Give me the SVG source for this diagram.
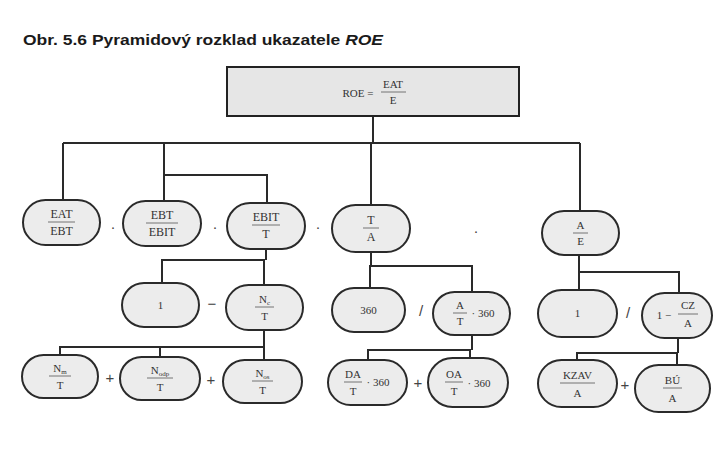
<svg xmlns="http://www.w3.org/2000/svg" width="718" height="472" viewBox="0 0 718 472">
<style>
.bg{fill:#ffffff}
.title{font-family:"Liberation Sans",Arial,sans-serif;font-weight:bold;font-size:15px;fill:#1a1a1a}
.node{fill:#ececec;stroke:#2a2a2a;stroke-width:2}
.box{fill:#e6e6e6;stroke:#222;stroke-width:2}
.t{font-family:"Liberation Serif","Times New Roman",serif;font-size:12px;fill:#333;text-anchor:middle}
.s{font-family:"Liberation Serif","Times New Roman",serif;font-size:11px;fill:#333;text-anchor:middle}
.sub{font-size:7px}
.fl{stroke:#555;stroke-width:0.8}
.op{font-family:"Liberation Sans",Arial,sans-serif;font-size:15px;fill:#444;text-anchor:middle}
.c{fill:none;stroke:#2a2a2a;stroke-width:2}
</style>
<rect class="bg" x="0" y="0" width="718" height="472"/>
<text class="title" x="23" y="45" textLength="360" lengthAdjust="spacingAndGlyphs">Obr. 5.6  Pyramidový rozklad ukazatele <tspan font-style="italic">ROE</tspan></text>

<g id="connectors">
  <polyline class="c" points="373,116 373,143 371,143 371,206"/>
  <line class="c" x1="63" y1="143" x2="580" y2="143"/>
  <line class="c" x1="63" y1="143" x2="63" y2="201"/>
  <line class="c" x1="164" y1="143" x2="164" y2="202"/>
  <polyline class="c" points="164,175 267,175 267,204"/>
  <line class="c" x1="580" y1="143" x2="580" y2="212"/>
  <polyline class="c" points="266,249 266,260"/>
  <polyline class="c" points="162,284 162,260 264,260 264,286"/>
  <polyline class="c" points="371,252 371,266"/>
  <polyline class="c" points="370,289 370,266 472,266 472,293"/>
  <polyline class="c" points="579,255 579,291"/>
  <polyline class="c" points="579,272 679,272 679,294"/>
  <polyline class="c" points="264,330 264,347"/>
  <polyline class="c" points="60,356 60,347 264,347 264,361"/>
  <line class="c" x1="160" y1="347" x2="160" y2="358"/>
  <polyline class="c" points="472,335 472,350"/>
  <polyline class="c" points="368,361 368,350 470,350 470,359"/>
  <polyline class="c" points="678,338 678,353"/>
  <polyline class="c" points="577,361 577,353 677,353 677,366"/>
</g>

<g id="root">
  <rect class="box" x="227" y="67" width="292" height="49"/>
  <text class="s" x="358" y="97">ROE =</text>
  <text class="s" x="393" y="88">EAT</text>
  <line class="fl" x1="381" y1="92" x2="406" y2="92"/>
  <text class="s" x="393" y="104">E</text>
</g>

<g id="n1">
  <rect class="node" x="23" y="200" width="77" height="45" rx="22.5"/>
  <text class="t" x="61.5" y="218">EAT</text>
  <line class="fl" x1="48" y1="222" x2="75" y2="222"/>
  <text class="t" x="61.5" y="235">EBT</text>
</g>
<g id="n2">
  <rect class="node" x="123" y="201" width="78" height="45" rx="22.5"/>
  <text class="t" x="162" y="219">EBT</text>
  <line class="fl" x1="146" y1="223" x2="178" y2="223"/>
  <text class="t" x="162" y="236">EBIT</text>
</g>
<g id="n3">
  <rect class="node" x="227" y="203" width="78" height="46" rx="23"/>
  <text class="t" x="266" y="221">EBIT</text>
  <line class="fl" x1="252" y1="225" x2="280" y2="225"/>
  <text class="t" x="266" y="238">T</text>
</g>
<g id="n4">
  <rect class="node" x="332" y="205" width="78" height="47" rx="23.5"/>
  <text class="t" x="371" y="224">T</text>
  <line class="fl" x1="363" y1="228" x2="379" y2="228"/>
  <text class="t" x="371" y="241">A</text>
</g>
<g id="n5">
  <rect class="node" x="542" y="211" width="77" height="44" rx="22"/>
  <text class="s" x="580.5" y="229">A</text>
  <line class="fl" x1="573" y1="233" x2="588" y2="233"/>
  <text class="s" x="580.5" y="245">E</text>
</g>

<g id="ops1">
  <text class="op" x="113" y="232">·</text>
  <text class="op" x="215" y="232">·</text>
  <text class="op" x="318" y="232">·</text>
  <text class="op" x="476" y="236">·</text>
</g>

<g id="n6">
  <rect class="node" x="122" y="283" width="77" height="44" rx="22"/>
  <text class="s" x="160.5" y="309">1</text>
</g>
<g id="n7">
  <rect class="node" x="226" y="285" width="77" height="45" rx="22.5"/>
  <text class="s" x="264.5" y="303">N<tspan class="sub" dy="2">c</tspan></text>
  <line class="fl" x1="255" y1="307" x2="274" y2="307"/>
  <text class="s" x="264.5" y="320">T</text>
</g>
<g id="n8">
  <rect class="node" x="332" y="288" width="73" height="44" rx="22"/>
  <text class="s" x="368.5" y="314">360</text>
</g>
<g id="n9">
  <rect class="node" x="433" y="292" width="77" height="43" rx="21.5"/>
  <text class="s" x="460" y="309">A</text>
  <line class="fl" x1="453" y1="313" x2="467" y2="313"/>
  <text class="s" x="460" y="325">T</text>
  <text class="s" x="483" y="317">· 360</text>
</g>
<g id="n10">
  <rect class="node" x="538" y="290" width="79" height="47" rx="23.5"/>
  <text class="s" x="577.5" y="317">1</text>
</g>
<g id="n11">
  <rect class="node" x="642" y="293" width="70" height="45" rx="22.5"/>
  <text class="s" x="664" y="319">1 −</text>
  <text class="s" x="688" y="309">CZ</text>
  <line class="fl" x1="678" y1="314" x2="698" y2="314"/>
  <text class="s" x="688" y="327">A</text>
</g>

<g id="ops2">
  <text class="op" x="212" y="309">−</text>
  <text class="op" x="421" y="316">/</text>
  <text class="op" x="628" y="318">/</text>
</g>

<g id="n12">
  <rect class="node" x="22" y="355" width="76" height="43" rx="21.5"/>
  <text class="s" x="60" y="372">N<tspan class="sub" dy="2">m</tspan></text>
  <line class="fl" x1="49" y1="376" x2="71" y2="376"/>
  <text class="s" x="60" y="389">T</text>
</g>
<g id="n13">
  <rect class="node" x="120" y="357" width="80" height="43" rx="21.5"/>
  <text class="s" x="160" y="374">N<tspan class="sub" dy="2">odp</tspan></text>
  <line class="fl" x1="147" y1="378" x2="173" y2="378"/>
  <text class="s" x="160" y="391">T</text>
</g>
<g id="n14">
  <rect class="node" x="223" y="360" width="79" height="43" rx="21.5"/>
  <text class="s" x="262.5" y="377">N<tspan class="sub" dy="2">os</tspan></text>
  <line class="fl" x1="252" y1="381" x2="273" y2="381"/>
  <text class="s" x="262.5" y="394">T</text>
</g>
<g id="n15">
  <rect class="node" x="328" y="360" width="79" height="45" rx="22.5"/>
  <text class="s" x="353" y="378">DA</text>
  <line class="fl" x1="344" y1="382" x2="362" y2="382"/>
  <text class="s" x="353" y="395">T</text>
  <text class="s" x="378" y="386">· 360</text>
</g>
<g id="n16">
  <rect class="node" x="428" y="358" width="80" height="49" rx="24.5"/>
  <text class="s" x="454" y="378">OA</text>
  <line class="fl" x1="445" y1="382" x2="463" y2="382"/>
  <text class="s" x="454" y="395">T</text>
  <text class="s" x="479" y="387">· 360</text>
</g>
<g id="n17">
  <rect class="node" x="538" y="360" width="79" height="47" rx="23.5"/>
  <text class="s" x="577.5" y="379">KZAV</text>
  <line class="fl" x1="560" y1="383" x2="595" y2="383"/>
  <text class="s" x="577.5" y="397">A</text>
</g>
<g id="n18">
  <rect class="node" x="635" y="365" width="75" height="47" rx="23.5"/>
  <text class="s" x="672.5" y="384">BÚ</text>
  <line class="fl" x1="663" y1="388" x2="682" y2="388"/>
  <text class="s" x="672.5" y="402">A</text>
</g>

<g id="ops3">
  <text class="op" x="110" y="383">+</text>
  <text class="op" x="211" y="385">+</text>
  <text class="op" x="418" y="388">+</text>
  <text class="op" x="625" y="390">+</text>
</g>
</svg>
